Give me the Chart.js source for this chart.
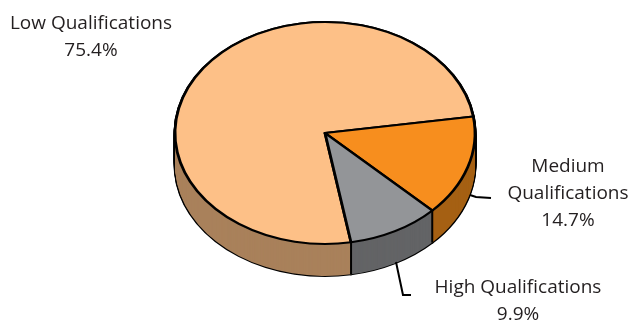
<!DOCTYPE html>
<html>
<head>
<meta charset="utf-8">
<title>Qualifications</title>
<script src="https://cdn.jsdelivr.net/npm/chart.js@4"></script>
<style>
html, body { margin: 0; padding: 0; background: #fff; overflow: hidden; }
#wrap { position: relative; width: 629px; height: 320px; }
</style>
</head>
<body>
<div id="wrap"><canvas id="pie" width="629" height="320"></canvas></div>
<script>
const categories = ["Low Qualifications", "Medium Qualifications", "High Qualifications"];
const shares = [75.4, 14.7, 9.9];
const topColors = ["#fdc087", "#f78e1e", "#939598"];
const wallColors = ["#a9815b", "#a56013", "#636466"];

// squash the flat pie into an ellipse and give it some thickness
const tilt = 0.74;
const depth = 32;
const pieX = 325;
const pieY = 133;

// order the walls get painted in, each one hides the slant of the one before
const wallOrder = [1, 2, 0];

const labelSpots = [
  { x: 91, y: 24, lines: ["Low Qualifications"] },
  { x: 568, y: 167, lines: ["Medium", "Qualifications"] },
  { x: 518, y: 288, lines: ["High Qualifications"] }
];

function tiltCtx(ctx, arc, drop) {
  ctx.translate(pieX, pieY + drop);
  ctx.scale(1, tilt);
  ctx.translate(-arc.x, -arc.y);
}

function drawCopy(ctx, arc, drop, fill, line, width) {
  const saved = arc.options;
  arc.options = {
    backgroundColor: fill, borderColor: line, borderWidth: width, borderAlign: "center",
    borderJoinStyle: "round", borderRadius: 0, borderDash: [], borderDashOffset: 0,
    spacing: 0, offset: 0, circular: true
  };
  ctx.save();
  tiltCtx(ctx, arc, drop);
  arc.draw(ctx);
  ctx.restore();
  arc.options = saved;
}

const fakePie3d = {
  id: "fakePie3d",
  beforeDatasetsDraw(chart) {
    const ctx = chart.ctx;
    const arcs = chart.getDatasetMeta(0).data;

    // black silhouette first, then the wall colours on top of it
    for (let d = depth; d >= 0; d -= 1) {
      arcs.forEach(arc => drawCopy(ctx, arc, d, "#000", "#000", 2.8));
    }
    wallOrder.forEach(i => {
      for (let d = depth; d >= 0; d -= 1) {
        drawCopy(ctx, arcs[i], d, wallColors[i], wallColors[i], 0);
      }
    });

    // vertical edges between the walls
    ctx.save();
    ctx.strokeStyle = "#000";
    ctx.lineWidth = 2;
    arcs.forEach((arc, i) => {
      if (i === 0) return;
      const ex = pieX + Math.cos(arc.endAngle) * arc.outerRadius;
      const ey = pieY + Math.sin(arc.endAngle) * arc.outerRadius * tilt;
      ctx.beginPath();
      ctx.moveTo(ex, ey);
      ctx.lineTo(ex, ey + depth);
      ctx.stroke();
    });
    ctx.restore();

    ctx.save();
    tiltCtx(ctx, arcs[0], 0);
  },
  afterDatasetsDraw(chart) {
    const ctx = chart.ctx;
    ctx.restore();

    // leader lines
    ctx.save();
    ctx.strokeStyle = "#000";
    ctx.lineWidth = 2;
    ctx.beginPath();
    ctx.moveTo(470, 195);
    ctx.lineTo(476, 197);
    ctx.lineTo(491, 198);
    ctx.moveTo(396, 262);
    ctx.lineTo(403, 295);
    ctx.lineTo(411, 295);
    ctx.stroke();
    ctx.restore();

    // labels
    ctx.save();
    ctx.fillStyle = "#231f20";
    ctx.font = "19px 'Open Sans'";
    ctx.textAlign = "center";
    ctx.textBaseline = "middle";
    labelSpots.forEach((spot, i) => {
      const rows = spot.lines.concat(shares[i].toFixed(1) + "%");
      rows.forEach((row, n) => ctx.fillText(row, spot.x, spot.y + n * 27));
    });
    ctx.restore();
  }
};

new Chart(document.getElementById("pie"), {
  type: "pie",
  data: {
    labels: categories,
    datasets: [{
      data: shares,
      backgroundColor: topColors,
      borderColor: "#000",
      borderWidth: 2.8,
      borderJoinStyle: "round",
      radius: 150,
      clip: false
    }]
  },
  options: {
    responsive: false,
    animation: false,
    rotation: 170,
    layout: { padding: 0 },
    plugins: { legend: { display: false }, tooltip: { enabled: false } }
  },
  plugins: [fakePie3d]
});
</script>
</body>
</html>
